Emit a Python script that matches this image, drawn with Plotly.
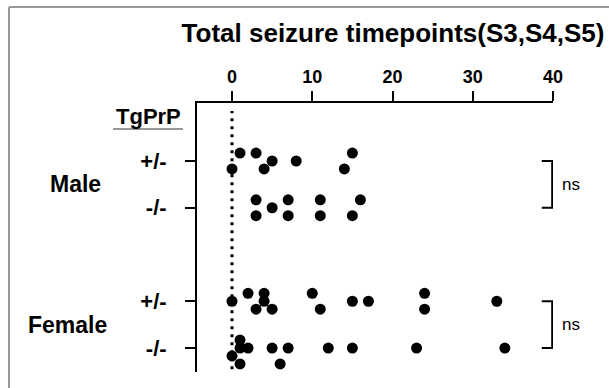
import plotly.graph_objects as go

# ---- data ----
group_labels = ["+/-", "-/-", "+/-", "-/-"]
group_pos = [1, 2, 4, 5]  # Male +/-, Male -/-, Female +/-, Female -/-

male_het_x = [1, 3, 15, 5, 8, 0, 4, 14]
male_het_lane = [-1, -1, -1, 0, 0, 1, 1, 1]

male_ko_x = [3, 7, 11, 16, 5, 3, 7, 11, 15]
male_ko_lane = [-1, -1, -1, -1, 0, 1, 1, 1, 1]

female_het_x = [2, 4, 10, 24, 0, 4, 15, 17, 33, 3, 5, 11, 24]
female_het_lane = [-1, -1, -1, -1, 0, 0, 0, 0, 0, 1, 1, 1, 1]

female_ko_x = [1, 1, 2, 5, 7, 12, 15, 23, 34, 0, 1, 6]
female_ko_lane = [-1, 0, 0, 0, 0, 0, 0, 0, 0, 1, 2, 2]

x_ticks = [0, 10, 20, 30, 40]
sex_labels = ["Male", "Female"]
sig_labels = ["ns", "ns"]

LANE = 0.17
W, H = 609, 388
ML, MR, MT, MB = 197, 56, 103, 16
FONT = "Liberation Sans, Arial, sans-serif"


def px2paper_x(px):
    return (px - ML) / (W - ML - MR)


def px2paper_y(py):
    return (H - MB - py) / (H - MT - MB)


fig = go.Figure()
series = [
    (male_het_x, male_het_lane, group_pos[0]),
    (male_ko_x, male_ko_lane, group_pos[1]),
    (female_het_x, female_het_lane, group_pos[2]),
    (female_ko_x, female_ko_lane, group_pos[3]),
]
for xs, lanes, pos in series:
    fig.add_trace(go.Scatter(
        x=xs, y=[pos + l * LANE for l in lanes], mode="markers",
        marker=dict(color="black", size=11, line=dict(width=0)),
        showlegend=False, cliponaxis=False, hoverinfo="x",
    ))

fig.update_layout(
    width=W, height=H, autosize=False,
    margin=dict(l=ML, r=MR, t=MT, b=MB),
    paper_bgcolor="white", plot_bgcolor="white",
    font=dict(family=FONT, color="black"),
    title=dict(text="<b>Total seizure timepoints(S3,S4,S5)</b>",
               font=dict(size=26, family=FONT, color="black"),
               xref="paper", x=px2paper_x(393), xanchor="center",
               yref="container", y=1 - 33 / H, yanchor="middle"),
    xaxis=dict(range=[-4.361, 40], side="top", showgrid=False, zeroline=False,
               showline=True, linecolor="black", linewidth=2,
               ticks="outside", ticklen=10, tickwidth=2, tickcolor="black",
               tickvals=x_ticks, ticktext=[str(v) for v in x_ticks],
               tickfont=dict(size=18, family=FONT, weight="bold"),
               ticklabelstandoff=1),
    yaxis=dict(range=[5.513, -0.2406], showgrid=False, zeroline=False,
               showline=True, linecolor="black", linewidth=2,
               ticks="outside", ticklen=10, tickwidth=2, tickcolor="black",
               tickvals=group_pos, ticktext=group_labels,
               tickfont=dict(size=22, family=FONT, weight="bold"),
               ticklabelstandoff=14),
)

shapes = []
# dotted zero line
shapes.append(dict(type="line", xref="x", yref="paper", x0=0, x1=0, y0=0.01, y1=0.97,
                   line=dict(color="black", width=3, dash="3px,5px")))
# significance brackets
for a, b in [(group_pos[0], group_pos[1]), (group_pos[2], group_pos[3])]:
    shapes.append(dict(type="path", xref="x", yref="y",
                       path=f"M 38.6 {a} L 39.9 {a} L 39.9 {b} L 38.6 {b}",
                       line=dict(color="black", width=2)))
# TgPrP underline
shapes.append(dict(type="line", xref="paper", yref="paper",
                   x0=px2paper_x(113), x1=px2paper_x(183),
                   y0=px2paper_y(129), y1=px2paper_y(129),
                   line=dict(color="#777777", width=1.5)))
# outer gray frame (top and left)
shapes.append(dict(type="line", xref="paper", yref="paper",
                   x0=px2paper_x(9), x1=px2paper_x(W + 5),
                   y0=px2paper_y(7), y1=px2paper_y(7),
                   line=dict(color="#999999", width=2)))
shapes.append(dict(type="line", xref="paper", yref="paper",
                   x0=px2paper_x(9), x1=px2paper_x(9),
                   y0=px2paper_y(7), y1=px2paper_y(H + 5),
                   line=dict(color="#999999", width=2)))
fig.update_layout(shapes=shapes)

ann = []
ann.append(dict(text="<b>TgPrP</b>", xref="paper", yref="paper",
                x=px2paper_x(148), y=px2paper_y(117), showarrow=False,
                xanchor="center", yanchor="middle",
                font=dict(size=22, family=FONT, color="black")))
for lab, (a, b), cx in zip(sex_labels, [(group_pos[0], group_pos[1]), (group_pos[2], group_pos[3])], [75, 67]):
    ann.append(dict(text=f"<b>{lab}</b>", xref="paper", yref="y",
                    x=px2paper_x(cx), y=(a + b) / 2, showarrow=False,
                    xanchor="center", yanchor="middle",
                    font=dict(size=23, family=FONT, color="black")))
for lab, (a, b) in zip(sig_labels, [(group_pos[0], group_pos[1]), (group_pos[2], group_pos[3])]):
    ann.append(dict(text=lab, xref="paper", yref="y",
                    x=px2paper_x(560), y=(a + b) / 2, showarrow=False,
                    xanchor="left", yanchor="middle",
                    font=dict(size=17, family=FONT, color="black")))
fig.update_layout(annotations=ann)

fig.write_html("out.html", config={"displayModeBar": False},
               post_script="document.body.style.margin='0';")
